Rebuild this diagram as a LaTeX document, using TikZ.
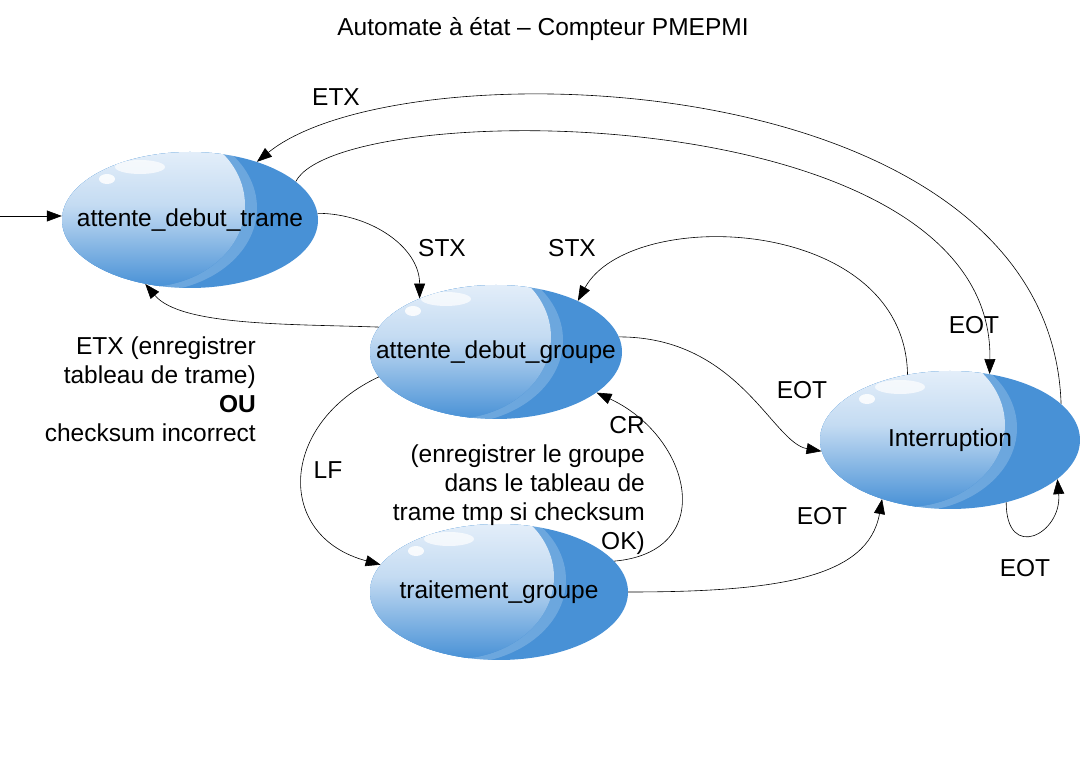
\documentclass[tikz,border=0pt]{standalone}
\usepackage{fontspec}
\setmainfont{Liberation Sans}
\usetikzlibrary{shapes.geometric,arrows.meta,calc}
\definecolor{etatbleu}{HTML}{4891D6}
\definecolor{etatclair}{HTML}{F4F8FD}
\newcommand{\etatnom}[1]{\makebox[0pt]{#1}}
\tikzset{
  etat/.style={ellipse,draw=none,fill=etatbleu,inner sep=0pt,
    minimum width=256pt,minimum height=136pt,
    path picture={
      \fill[white,opacity=.2]($(path picture bounding box.center)+(-42,12)$)ellipse[x radius=109,y radius=84];
      \fill[top color=etatclair,bottom color=etatbleu,middle color=etatclair!72!etatbleu]
        ($(path picture bounding box.center)+(-45,15)$)ellipse[x radius=100,y radius=82];
      \fill[white,opacity=.7]($(path picture bounding box.center)+(-50,53)$)ellipse[x radius=25,y radius=7];
      \fill[white,opacity=.85]($(path picture bounding box.center)+(-83,41)$)ellipse[x radius=8,y radius=5];
    }},
  fleche/.style={-{Triangle[length=15pt,width=11pt]},line width=0.6pt},
  lbl/.style={inner sep=0pt}
}
\begin{document}
\begin{tikzpicture}[x=1pt,y=1pt,font=\fontsize{24.5}{29}\selectfont]
\useasboundingbox (0,0) rectangle (1080,764);
\node (titre) at (543,735) {Automate à état – Compteur PMEPMI};
\node[etat] (trame) at (190,544) {\etatnom{attente\_debut\_trame}};
\node[etat,minimum width=252pt,minimum height=134pt] (groupe) at (496,412) {\etatnom{attente\_debut\_groupe}};
\node[etat,minimum width=258pt] (traitement) at (499,172) {\etatnom{traitement\_groupe}};
\node[etat,minimum width=260pt,minimum height=138pt] (interr) at (950,324) {\etatnom{Interruption}};
\coordinate (debut) at (0,548);
\draw[fleche](debut)--(debut -| trame.west);
\draw[fleche](trame.3)to[out=0,in=90](groupe.145);
\draw[fleche](groupe.168)..controls +(178:90) and +(-50:55)..(trame.235);
\draw[fleche](interr.18)..controls (1050,702) and (400,719)..(trame.41);
\draw[fleche](trame.20)..controls (340,668) and (995,668)..(interr.59);
\draw[fleche](interr.123)..controls (905,549) and (630,559)..(groupe.32);
\draw[fleche](groupe.7)..controls +(0:120) and +(170:50)..(interr.185);
\draw[fleche](groupe.192)..controls +(205:110) and +(165:110)..(traitement.167);
\draw[fleche](traitement.15)..controls +(5:105) and +(-25:105)..(groupe.-22);
\draw[fleche](traitement.east)..controls +(0:150) and +(-100:80)..(interr.221);
\draw[fleche](interr.-48)..controls +(-90:60) and +(-85:55)..(interr.-20);
\foreach \n/\x/\y/\t in {etxA/336/667/ETX,stxA/442/516/STX,stxB/572/516/STX,eotA/974/439/EOT,
  eotB/802/374/EOT,eotC/822/248/EOT,eotD/1025/196/EOT,lf/328/294/LF}{
  \node[lbl] (\n) at (\x,\y) {\t};}
\node[lbl,align=right,anchor=east] (etxB) at (256,375) {ETX (enregistrer\\tableau de trame)\\\textbf{OU}\\checksum incorrect};
\node[lbl,align=right,anchor=east] (cr) at (645,279) {CR\\(enregistrer le groupe\\dans le tableau de\hspace*{7pt}\\trame tmp si checksum\\OK)};
\end{tikzpicture}
\end{document}
